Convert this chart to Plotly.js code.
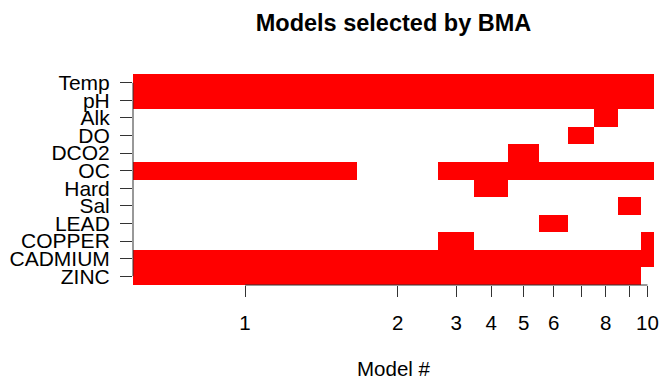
<!DOCTYPE html>
<html>
<head>
<meta charset="utf-8">
<script src="https://cdn.plot.ly/plotly-3.0.1.min.js"></script>
<style>
  html, body { margin: 0; padding: 0; background: #ffffff; }
  #chart { width: 661px; height: 380px; }
</style>
</head>
<body>
<div id="chart"></div>
<script>
// Predictors, listed top to bottom
const variables = ["Temp", "pH", "Alk", "DO", "DCO2", "OC", "Hard", "Sal", "LEAD", "COPPER", "CADMIUM", "ZINC"];

// Posterior probability of each of the best 10 models (column widths)
const postprob = [0.430, 0.156, 0.069, 0.065, 0.060, 0.055, 0.050, 0.045, 0.045, 0.025];

// Model numbers shown under the axis (7 and 9 are crowded out)
const modelLabels = ["1", "2", "3", "4", "5", "6", "", "8", "", "10"];

// 1 = variable included in the model, 0 = not included
const incTemp    = [1, 1, 1, 1, 1, 1, 1, 1, 1, 1];
const incPH      = [1, 1, 1, 1, 1, 1, 1, 1, 1, 1];
const incAlk     = [0, 0, 0, 0, 0, 0, 0, 1, 0, 0];
const incDO      = [0, 0, 0, 0, 0, 0, 1, 0, 0, 0];
const incDCO2    = [0, 0, 0, 0, 1, 0, 0, 0, 0, 0];
const incOC      = [1, 0, 1, 1, 1, 1, 1, 1, 1, 1];
const incHard    = [0, 0, 0, 1, 0, 0, 0, 0, 0, 0];
const incSal     = [0, 0, 0, 0, 0, 0, 0, 0, 1, 0];
const incLEAD    = [0, 0, 0, 0, 0, 1, 0, 0, 0, 0];
const incCOPPER  = [0, 0, 1, 0, 0, 0, 0, 0, 0, 1];
const incCADMIUM = [1, 1, 1, 1, 1, 1, 1, 1, 1, 1];
const incZINC    = [1, 1, 1, 1, 1, 1, 1, 1, 1, 0];

const inclusion = [incTemp, incPH, incAlk, incDO, incDCO2, incOC, incHard,
                   incSal, incLEAD, incCOPPER, incCADMIUM, incZINC];

// Column edges are the cumulative posterior probability
const edges = [0];
postprob.forEach((p, i) => edges.push(edges[i] + p));
const centers = postprob.map((p, i) => (edges[i] + edges[i + 1]) / 2);
const rows = variables.map((v, i) => i + 1);

const font = "'Liberation Sans', Arial, Helvetica, sans-serif";

const trace = {
  type: "heatmap",
  x: edges,
  y: rows,
  z: inclusion,
  colorscale: [[0, "#ffffff"], [1, "#ff0000"]],
  zmin: 0,
  zmax: 1,
  showscale: false,
  hoverinfo: "skip"
};

const layout = {
  width: 661,
  height: 380,
  margin: { l: 133, r: 7, t: 74, b: 95 },
  paper_bgcolor: "#ffffff",
  plot_bgcolor: "#ffffff",
  font: { family: font, color: "#000000" },
  title: {
    text: "<b>Models selected by BMA</b>",
    font: { family: font, size: 23.5, color: "#000000" },
    x: 393.5 / 661,
    xanchor: "center",
    y: 1 - 23 / 380,
    yanchor: "middle"
  },
  xaxis: {
    range: [0, edges[edges.length - 1]],
    tickvals: centers,
    ticktext: modelLabels,
    ticks: "outside",
    ticklen: 11,
    tickwidth: 1,
    tickcolor: "#333333",
    tickfont: { family: font, size: 20.5, color: "#000000" },
    ticklabelstandoff: 8,
    showgrid: false,
    zeroline: false,
    showline: false,
    title: {
      text: "Model #",
      font: { family: font, size: 20.5, color: "#000000" },
      standoff: 31
    }
  },
  yaxis: {
    range: [variables.length + 0.5, 0.5],
    tickvals: rows,
    ticktext: variables,
    ticks: "outside",
    ticklen: 12,
    tickwidth: 1,
    tickcolor: "#333333",
    tickfont: { family: font, size: 21, color: "#000000" },
    ticklabelstandoff: 6,
    showgrid: false,
    zeroline: false,
    showline: false
  },
  shapes: [
    // y axis line between the first and last variable
    { type: "line", xref: "paper", yref: "y", x0: 0, x1: 0, y0: rows[0], y1: rows[rows.length - 1],
      line: { color: "#333333", width: 1 }, layer: "above" },
    // x axis line between the first and last model
    { type: "line", xref: "x", yref: "paper", x0: centers[0], x1: centers[centers.length - 1], y0: 0, y1: 0,
      line: { color: "#333333", width: 1 }, layer: "above" }
  ]
};

Plotly.newPlot("chart", [trace], layout, { displayModeBar: false, staticPlot: true });
</script>
</body>
</html>
